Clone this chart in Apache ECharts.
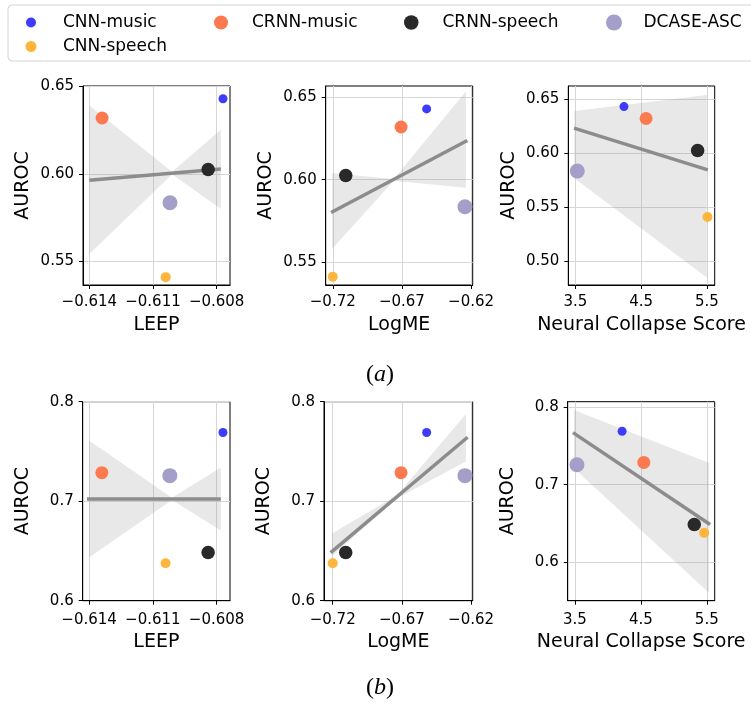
<!DOCTYPE html>
<html>
<head>
<meta charset="utf-8">
<script src="https://cdn.jsdelivr.net/npm/echarts@6/dist/echarts.min.js"></script>
<style>
  html, body { margin: 0; padding: 0; background: #fff; }
  #main { width: 751px; height: 702px; }
</style>
</head>
<body>
<div id="main"></div>
<script>
// models, in legend order
var models = ['CNN-music', 'CRNN-music', 'CRNN-speech', 'DCASE-ASC', 'CNN-speech'];

// transferability scores per model
var leepScore = [-0.6077, -0.6134, -0.6084, -0.6102, -0.6104];
var logmeScore = [-0.6521, -0.6706, -0.7106, -0.6244, -0.7200];
var ncScoreA = [4.24, 4.576, 5.36, 3.53, 5.51];
var ncScoreB = [4.215, 4.545, 5.31, 3.53, 5.46];

// AUROC per model, task (a) and task (b)
var aurocA = [0.643, 0.632, 0.6025, 0.5835, 0.541];
var aurocB = [0.769, 0.7287, 0.6485, 0.7257, 0.6377];

// tick labels
var leepTicks = [-0.614, -0.611, -0.608];
var logmeTicks = [-0.72, -0.67, -0.62];
var ncTicks = [3.5, 4.5, 5.5];
var aurocTicksA = [0.55, 0.60, 0.65];
var aurocTicksNcA = [0.50, 0.55, 0.60, 0.65];
var aurocTicksB = [0.6, 0.7, 0.8];

// regression lines (end points)
var fitLeepA = [[-0.6140, 0.5964], [-0.6078, 0.6029]];
var fitLogmeA = [[-0.7212, 0.5800], [-0.6227, 0.6238]];
var fitNcA = [[3.48, 0.6231], [5.515, 0.5846]];
var fitLeepB = [[-0.6141, 0.7023], [-0.6078, 0.7023]];
var fitLogmeB = [[-0.7215, 0.6483], [-0.6225, 0.7643]];
var fitNcB = [[3.47, 0.7672], [5.55, 0.6484]];

// confidence bands
var bandLeepA = { x: [-0.6140, -0.6101, -0.6078], lo: [0.5542, 0.5998, 0.5799], hi: [0.6392, 0.6012, 0.6253] };
var bandLogmeA = { x: [-0.7205, -0.6759, -0.6237], lo: [0.5579, 0.5994, 0.5951], hi: [0.6039, 0.6004, 0.6535] };
var bandNcA = { x: [3.485, 5.50], lo: [0.5769, 0.4852], hi: [0.6390, 0.6538] };
var bandLeepB = { x: [-0.6140, -0.6101, -0.6078], lo: [0.6433, 0.7012, 0.6705], hi: [0.7610, 0.7034, 0.7338] };
var bandLogmeB = { x: [-0.7205, -0.6735, -0.6237], lo: [0.6450, 0.7030, 0.7398], hi: [0.6676, 0.7060, 0.7877] };
var bandNcB = { x: [3.485, 5.535], lo: [0.7212, 0.5599], hi: [0.7965, 0.7280] };

var colors = ['#3c3cfa', '#fc7a50', '#292929', '#a39fc9', '#fdb63b'];
var sizes = [9, 13, 13.5, 15, 10];
var FONT = 'DejaVu Sans';

var panels = [
  { row: 0, grid: { left: 83, top: 86, width: 147, height: 199 }, xs: leepScore, ys: aurocA, xr: [-0.6143, -0.60737], yr: [0.5365, 0.6503], xt: leepTicks, xd: 3, yt: aurocTicksA, yd: 2, name: 'LEEP', fit: fitLeepA, band: bandLeepA },
  { row: 0, grid: { left: 325.7, top: 86, width: 147, height: 199 }, xs: logmeScore, ys: aurocA, xr: [-0.7251, -0.6188], yr: [0.536, 0.6569], xt: logmeTicks, xd: 2, yt: aurocTicksA, yd: 2, name: 'LogME', fit: fitLogmeA, band: bandLogmeA },
  { row: 0, grid: { left: 568.3, top: 86, width: 146.4, height: 199 }, xs: ncScoreA, ys: aurocA, xr: [3.393, 5.62], yr: [0.4782, 0.662], xt: ncTicks, xd: 1, yt: aurocTicksNcA, yd: 2, name: 'Neural Collapse Score', fit: fitNcA, band: bandNcA },
  { row: 1, grid: { left: 82.7, top: 401.7, width: 147.3, height: 199 }, xs: leepScore, ys: aurocB, xr: [-0.6143, -0.60737], yr: [0.6, 0.8], xt: leepTicks, xd: 3, yt: aurocTicksB, yd: 1, name: 'LEEP', fit: fitLeepB, band: bandLeepB },
  { row: 1, grid: { left: 324, top: 401.7, width: 148.7, height: 199 }, xs: logmeScore, ys: aurocB, xr: [-0.7263, -0.6188], yr: [0.6, 0.8], xt: logmeTicks, xd: 2, yt: aurocTicksB, yd: 1, name: 'LogME', fit: fitLogmeB, band: bandLogmeB },
  { row: 1, grid: { left: 567.7, top: 401.7, width: 147, height: 199 }, xs: ncScoreB, ys: aurocB, xr: [3.39, 5.62], yr: [0.55, 0.8072], xt: ncTicks, xd: 1, yt: aurocTicksB, yd: 1, name: 'Neural Collapse Score', fit: fitNcB, band: bandNcB }
];

function fmt(d) {
  return function (v) {
    return (v < 0 ? '\u2212' : '') + Math.abs(v).toFixed(d);
  };
}

var grids = [], xAxes = [], yAxes = [], series = [];

panels.forEach(function (p, i) {
  grids.push(Object.assign({
    show: true, borderColor: '#000', borderWidth: 1, backgroundColor: 'transparent',
    containLabel: false, outerBoundsMode: 'none'
  }, p.grid));

  xAxes.push({
    type: 'value', gridIndex: i, min: p.xr[0], max: p.xr[1],
    name: p.name, nameLocation: 'middle', nameGap: p.row ? 32 : 31,
    nameTextStyle: { fontFamily: FONT, fontSize: 19, color: '#000' },
    axisLine: { show: true, lineStyle: { color: '#000', width: 1 } },
    axisTick: { show: true, inside: false, length: 4, customValues: p.xt, lineStyle: { color: '#000' } },
    axisLabel: { customValues: p.xt, formatter: fmt(p.xd), margin: p.row ? 12 : 10, fontFamily: FONT, fontSize: 15, color: '#000' },
    splitLine: { show: true, lineStyle: { color: '#d6d6d6', width: 1 } }
  });

  yAxes.push({
    type: 'value', gridIndex: i, min: p.yr[0], max: p.yr[1],
    name: 'AUROC', nameLocation: 'middle', nameGap: 50,
    nameTextStyle: { fontFamily: FONT, fontSize: 19, color: '#000' },
    axisLine: { show: true, lineStyle: { color: '#000', width: 1 } },
    axisTick: { show: true, inside: false, length: 4, customValues: p.yt, lineStyle: { color: '#000' } },
    axisLabel: { customValues: p.yt, formatter: fmt(p.yd), margin: 9, fontFamily: FONT, fontSize: 15, color: '#000' },
    splitLine: { show: true, lineStyle: { color: '#d6d6d6', width: 1 } }
  });

  var band = p.band;
  series.push({
    type: 'custom', xAxisIndex: i, yAxisIndex: i, silent: true, z: 1,
    data: band.x.map(function (x, k) { return [x, band.lo[k], band.hi[k]]; }),
    encode: { x: 0, y: [1, 2] },
    renderItem: function (params, api) {
      if (params.dataIndex !== 0) return;
      var pts = [];
      for (var k = 0; k < band.x.length; k++) pts.push(api.coord([band.x[k], band.hi[k]]));
      for (var k2 = band.x.length - 1; k2 >= 0; k2--) pts.push(api.coord([band.x[k2], band.lo[k2]]));
      return { type: 'polygon', shape: { points: pts }, style: { fill: 'rgba(150,150,150,0.22)' } };
    }
  });

  series.push({
    type: 'line', xAxisIndex: i, yAxisIndex: i, silent: true, z: 2,
    data: p.fit, showSymbol: false, symbol: 'none',
    lineStyle: { color: '#8c8c8c', width: 3.5 }
  });

  models.forEach(function (m, j) {
    series.push({
      type: 'scatter', name: m, xAxisIndex: i, yAxisIndex: i, z: 3,
      data: [[p.xs[j], p.ys[j]]],
      symbolSize: sizes[j],
      itemStyle: { color: colors[j], opacity: 1 }
    });
  });
});

// one legend per entry so each marker keeps its own size and spot
var legendSpots = [
  { left: 26, top: 14, h: 10, pad: 22 },
  { left: 214, top: 14, h: 14, pad: 19 },
  { left: 404, top: 14, h: 14.5, pad: 19 },
  { left: 606, top: 14, h: 16, pad: 16.5 },
  { left: 25.5, top: 38, h: 11, pad: 21.5 }
];
var legends = models.map(function (m, j) {
  var s = legendSpots[j];
  return {
    data: [m], left: s.left, top: s.top, padding: 0,
    icon: 'circle', itemWidth: s.h, itemHeight: s.h,
    selectedMode: false,
    textStyle: { fontFamily: FONT, fontSize: 17, color: '#000', padding: [0, 0, 0, s.pad] }
  };
});

var myChart = echarts.init(document.getElementById('main'), null, { renderer: 'canvas' });

var option = {
  backgroundColor: '#fff',
  animation: false,
  legend: legends,
  grid: grids,
  xAxis: xAxes,
  yAxis: yAxes,
  series: series,
  graphic: [
    {
      type: 'rect', z: -1, silent: true,
      shape: { x: 8, y: 5, width: 760, height: 56, r: 4 },
      style: { fill: '#fff', stroke: '#d4d4d4', lineWidth: 1 }
    },
    {
      type: 'text', x: 380, y: 375, silent: true,
      style: {
        text: '{p|(}{i|a}{p|)}', align: 'center', verticalAlign: 'middle',
        rich: {
          p: { fontFamily: 'Liberation Serif', fontSize: 24, fill: '#000' },
          i: { fontFamily: 'Liberation Serif', fontStyle: 'italic', fontSize: 24, fill: '#000' }
        }
      }
    },
    {
      type: 'text', x: 380, y: 688, silent: true,
      style: {
        text: '{p|(}{i|b}{p|)}', align: 'center', verticalAlign: 'middle',
        rich: {
          p: { fontFamily: 'Liberation Serif', fontSize: 24, fill: '#000' },
          i: { fontFamily: 'Liberation Serif', fontStyle: 'italic', fontSize: 24, fill: '#000' }
        }
      }
    }
  ]
};

myChart.setOption(option);
window.addEventListener('resize', function () {
  myChart.resize();
});
</script>
</body>
</html>
